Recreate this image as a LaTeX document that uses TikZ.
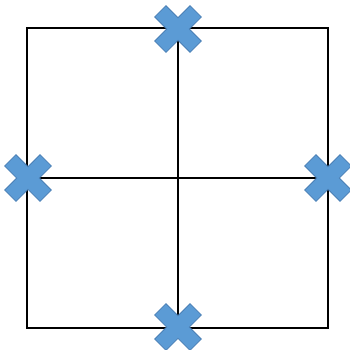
\documentclass[tikz,border=0pt]{standalone}
\usepackage{tikz}
\usetikzlibrary{positioning,calc}
\definecolor{xfill}{HTML}{5B9BD5}
\definecolor{xedge}{HTML}{4A7FB5}
\tikzset{
  grid line/.style={draw=black,line width=1.3pt},
  xmarker/.pic={
    \draw[fill=xfill,draw=xedge,line width=0.8pt,rotate=45]
      (8,8) -- (25,8) -- (25,-8) -- (8,-8) -- (8,-25) -- (-8,-25)
      -- (-8,-8) -- (-25,-8) -- (-25,8) -- (-8,8) -- (-8,25) -- (8,25) -- cycle;
  }
}
\begin{document}
\begin{tikzpicture}[x=1pt,y=-1pt]
\useasboundingbox (0,0) rectangle (350,349);
% corners and edge midpoints
\coordinate (nw) at (27,28);
\coordinate (se) at (328,328);
\coordinate (n) at (178,28);
\coordinate (s) at (178,328);
\coordinate (w) at (27,178);
\coordinate (e) at (328,178);
% square and cross lines
\draw[grid line] (nw) rectangle (se);
\draw[grid line] (n) -- (s);
\draw[grid line] (w) -- (e);
% markers
\pic at ($(n)+(0,1)$) {xmarker};
\pic at ($(s)+(0,-1)$) {xmarker};
\pic at ($(w)+(1,0)$) {xmarker};
\pic at (e) {xmarker};
\end{tikzpicture}
\end{document}
